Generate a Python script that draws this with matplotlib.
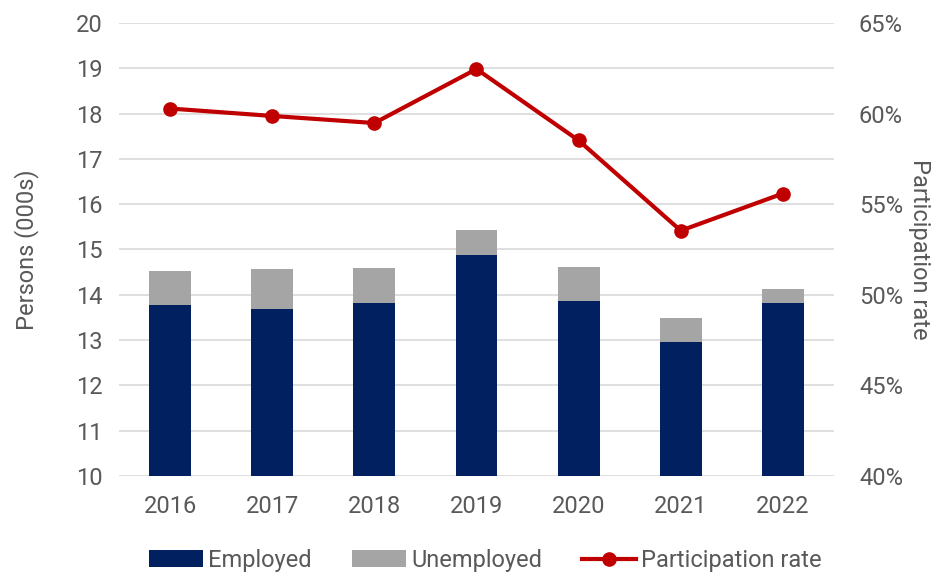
import matplotlib.pyplot as plt
import numpy as np
from matplotlib.ticker import FuncFormatter

years = ["2016", "2017", "2018", "2019", "2020", "2021", "2022"]
employed = [13.78, 13.69, 13.82, 14.87, 13.87, 12.96, 13.82]
total = [14.52, 14.57, 14.59, 15.44, 14.62, 13.49, 14.13]
unemployed = [t - e for t, e in zip(total, employed)]
participation = [60.28, 59.87, 59.48, 62.46, 58.52, 53.54, 55.59]

plt.rcParams['font.family'] = ['Roboto', 'DejaVu Sans']
txt = '#595959'
fs = 17

fig = plt.figure(figsize=(9.37, 5.73), dpi=100)
ax = fig.add_axes([119/937, 1 - 476/573, 715/937, 453/573])
ax2 = ax.twinx()

x = np.arange(len(years))
ax.bar(x, employed, width=0.41, bottom=0, color='#002060', label='Employed', zorder=2)
ax.bar(x, unemployed, width=0.41, bottom=employed, color='#a5a5a5', label='Unemployed', zorder=2)
ax2.plot(x, participation, color='#c00000', lw=3, marker='o', ms=9.5, label='Participation rate', zorder=3)

ax.set_ylim(10, 20)
ax.set_yticks(range(10, 21))
ax.set_xlim(-0.5, 6.5)
ax.set_xticks(x)
ax.set_xticklabels(years)
ax2.set_ylim(40, 65)
ax2.set_yticks(range(40, 66, 5))
ax2.yaxis.set_major_formatter(FuncFormatter(lambda v, p: f"{v:.0f}%"))

ax.grid(axis='y', color='#d9d9d9', lw=1.2, zorder=0)
ax.set_axisbelow(True)
for a in (ax, ax2):
    for s in a.spines.values():
        s.set_visible(False)
    a.tick_params(length=0, labelsize=fs, labelcolor=txt)
ax.tick_params(axis='y', pad=12)
ax.tick_params(axis='x', pad=14)
ax2.tick_params(axis='y', pad=18)

ax.set_ylabel("Persons (000s)", fontsize=fs, color=txt, labelpad=26)
ax2.set_ylabel("Participation rate", fontsize=fs, color=txt, rotation=-90, labelpad=20)

h1, l1 = ax.get_legend_handles_labels()
h2, l2 = ax2.get_legend_handles_labels()
fig.legend(h1 + h2, l1 + l2, loc='lower center', bbox_to_anchor=(0.518, -0.035), ncol=3,
           frameon=False, fontsize=fs, labelcolor=txt, handlelength=2.3, handletextpad=0.2,
           columnspacing=1.7)

fig.savefig("out.png", dpi=100)
